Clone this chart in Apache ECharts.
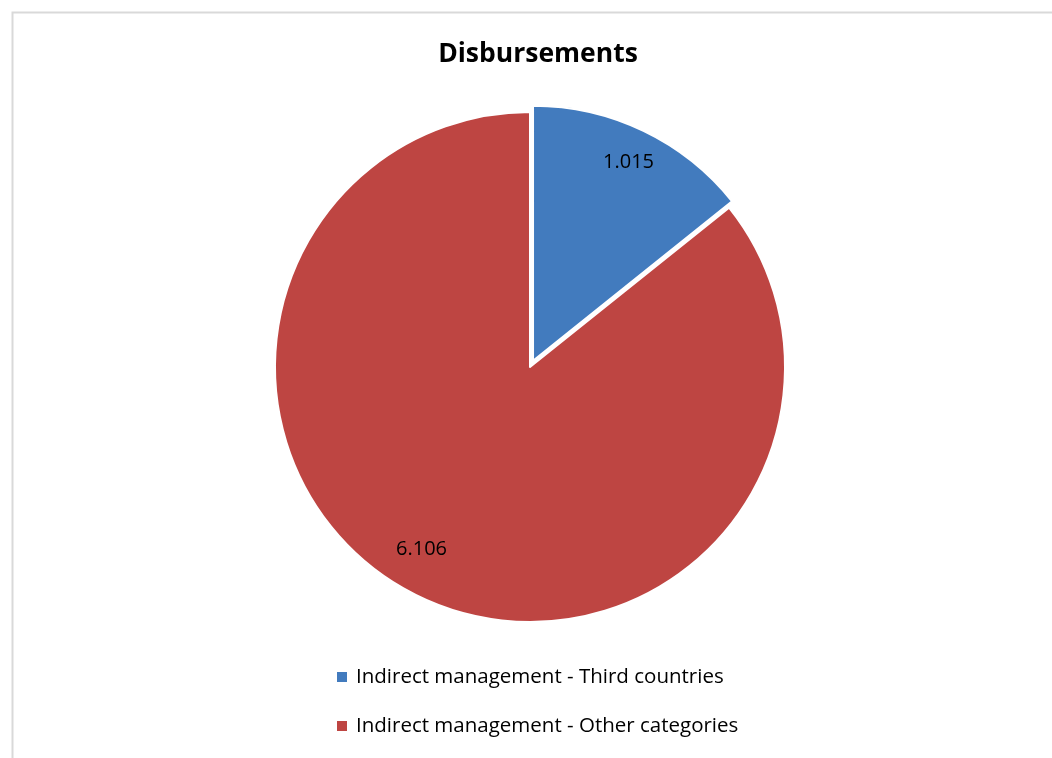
<!DOCTYPE html>
<html>
<head>
<meta charset="utf-8">
<script src="https://cdn.jsdelivr.net/npm/echarts@6/dist/echarts.min.js"></script>
<style>
html,body{margin:0;padding:0;background:#fff;}
#chart{width:1052px;height:758px;}
</style>
</head>
<body>
<div id="chart"></div>
<script>
const titleText = 'Disbursements';
const categories = ['Indirect management - Third countries', 'Indirect management - Other categories'];
const values = [1.015, 6.106];
const valueLabels = ['1.015', '6.106'];
const colors = ['#427BBE', '#BE4542'];

const FONT = '"Open Sans", sans-serif';
const chart = echarts.init(document.getElementById('chart'));

const mainData = categories.map((c, i) => ({
  name: c, value: values[i], selected: i === 0,
  itemStyle: { color: colors[i] }
}));
const labelData = categories.map((c, i) => ({
  name: c, value: values[i], selected: i === 0,
  label: { formatter: valueLabels[i], offset: i === 1 ? [-13, -16] : [-4, 7] }
}));

chart.setOption({
  backgroundColor: '#ffffff',
  animation: false,
  graphic: [{
    type: 'rect', left: 10, top: 10, silent: true,
    shape: { width: 1100, height: 800 },
    style: { fill: 'none', stroke: '#d9d9d9', lineWidth: 2 }
  }],
  title: {
    text: titleText, left: 538, top: 41, textAlign: 'center', padding: 0,
    textStyle: { fontFamily: FONT, fontSize: 26.5, fontWeight: 'bold', color: '#000' }
  },
  legend: {
    orient: 'vertical', left: 330, top: 659, icon: 'rect',
    itemWidth: 12, itemHeight: 12, itemGap: 23,
    data: categories,
    textStyle: { fontFamily: FONT, fontSize: 20.5, color: '#000', lineHeight: 26, padding: [0, 0, 0, 3] }
  },
  series: [{
    type: 'pie', center: [530, 367], radius: 255,
    startAngle: 90, clockwise: true,
    selectedMode: 'single', selectedOffset: 7,
    label: { show: false }, labelLine: { show: false },
    itemStyle: { borderColor: '#ffffff', borderWidth: 2 },
    emphasis: { disabled: true },
    data: mainData
  }, {
    type: 'pie', center: [530, 367], radius: [180, 255],
    startAngle: 90, clockwise: true, silent: true,
    selectedMode: 'single', selectedOffset: 7,
    legendHoverLink: false,
    itemStyle: { color: 'rgba(0,0,0,0)' },
    label: { show: true, position: 'inside', fontFamily: FONT, fontSize: 20, color: '#000' },
    labelLine: { show: false },
    emphasis: { disabled: true },
    data: labelData
  }]
});
</script>
</body>
</html>
